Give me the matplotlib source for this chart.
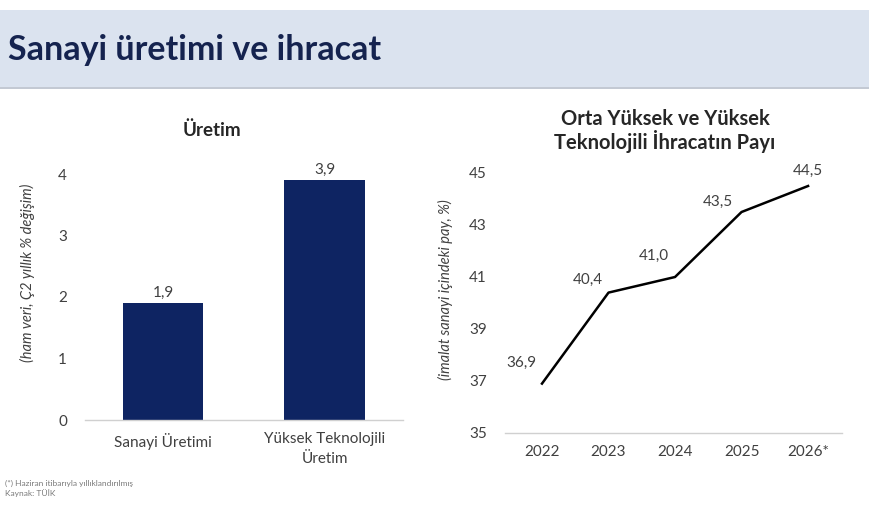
import matplotlib
matplotlib.use("Agg")
import matplotlib.pyplot as plt
from matplotlib.patches import Rectangle

plt.rcParams['font.family'] = ['Lato', 'DejaVu Sans']

# Data
bar_categories = ["Sanayi Üretimi", "Yüksek Teknolojili\nÜretim"]
bar_values = [1.9, 3.9]
bar_labels = ["1,9", "3,9"]

years = ["2022", "2023", "2024", "2025", "2026*"]
share_values = [36.9, 40.4, 41.0, 43.5, 44.5]
share_labels = ["36,9", "40,4", "41,0", "43,5", "44,5"]

W, H = 870, 513
fig = plt.figure(figsize=(W / 100, H / 100), dpi=100)
fig.patch.set_facecolor("white")

def fx(x):
    return x / W

def fy(y):
    return 1 - y / H

# Header band
fig.patches.append(Rectangle((0, fy(88)), 1, (88 - 10) / H, transform=fig.transFigure,
                             facecolor="#dbe3ef", edgecolor="none", zorder=0))
fig.patches.append(Rectangle((0, fy(89)), 1, 2 / H, transform=fig.transFigure,
                             facecolor="#c3c9d3", edgecolor="none", zorder=0))
fig.text(fx(8), fy(50), "Sanayi üretimi ve ihracat", fontsize=24.5, fontweight="bold",
         color="#15234f", va="center", ha="left")

navy = "#0e2462"
tick_color = "#404040"
fs = 11

# Left bar chart
axL = fig.add_axes([fx(85), fy(420), fx(403 - 85), (420 - 174) / H])
x = list(range(len(bar_categories)))
bars = axL.bar(x, bar_values, width=0.5, color=navy, zorder=2)
axL.set_xlim(-0.483, 1.486)
axL.set_ylim(0, 4)
axL.set_yticks([0, 1, 2, 3, 4])
axL.set_xticks(x)
axL.set_xticklabels(bar_categories, fontsize=fs, color=tick_color, linespacing=1.5)
axL.tick_params(axis="y", length=0, pad=13, labelsize=fs, labelcolor=tick_color)
axL.tick_params(axis="x", length=0, pad=9)
for s in ["top", "right", "left"]:
    axL.spines[s].set_visible(False)
axL.spines["bottom"].set_color("#d0d0d0")
axL.spines["bottom"].set_linewidth(1)
for b, lab in zip(bars, bar_labels):
    axL.annotate(lab, (b.get_x() + b.get_width() / 2, b.get_height()),
                 xytext=(0, 2), textcoords="offset points", ha="center", va="bottom",
                 fontsize=fs, color=tick_color, annotation_clip=False)
axL.set_ylabel("(ham veri, Ç2 yıllık % değişim)", fontsize=10.5, style="italic",
               color=tick_color)
axL.yaxis.set_label_coords((35 - 85) / (403 - 85), (420 - 273) / (420 - 174))
fig.text(fx(212), fy(130), "Üretim", fontsize=13.5, fontweight="bold",
         color="#262626", ha="center", va="center")

# Right line chart
axR = fig.add_axes([fx(505), fy(433), fx(842 - 505), (433 - 173) / H])
xr = list(range(len(years)))
axR.plot(xr, share_values, color="black", linewidth=1.8, zorder=3)
axR.set_xlim(-0.556, 4.51)
axR.set_ylim(35, 45)
axR.set_yticks([35, 37, 39, 41, 43, 45])
axR.set_xticks(xr)
axR.set_xticklabels(years, fontsize=fs, color=tick_color)
axR.tick_params(axis="y", length=0, pad=13, labelsize=fs, labelcolor=tick_color)
axR.tick_params(axis="x", length=0, pad=9)
for s in ["top", "right", "left"]:
    axR.spines[s].set_visible(False)
axR.spines["bottom"].set_color("#d0d0d0")
axR.spines["bottom"].set_linewidth(1)
offsets = [(-15, 10), (-15, 4), (-15, 10), (-17, 2), (0, 6)]
for xi, v, lab, off in zip(xr, share_values, share_labels, offsets):
    axR.annotate(lab, (xi, v), xytext=off, textcoords="offset points",
                 ha="center", va="bottom", fontsize=fs, color=tick_color,
                 annotation_clip=False)
axR.set_ylabel("(imalat sanayi içindeki pay, %)", fontsize=10.5, style="italic",
               color=tick_color)
axR.yaxis.set_label_coords((453 - 505) / (842 - 505), (433 - 290) / (433 - 173))
fig.text(fx(665), fy(131), "Orta Yüksek ve Yüksek\nTeknolojili İhracatın Payı",
         fontsize=14.5, fontweight="bold", color="#262626", ha="center", va="center",
         linespacing=1.1)

# Footnotes
fig.text(fx(5), fy(483), "(*) Haziran itibarıyla yıllıklandırılmış", fontsize=6,
         color="#7a7a7a", ha="left", va="center")
fig.text(fx(5), fy(493), "Kaynak: TÜİK", fontsize=6, color="#7a7a7a",
         ha="left", va="center")

fig.savefig("out.png", dpi=100)
